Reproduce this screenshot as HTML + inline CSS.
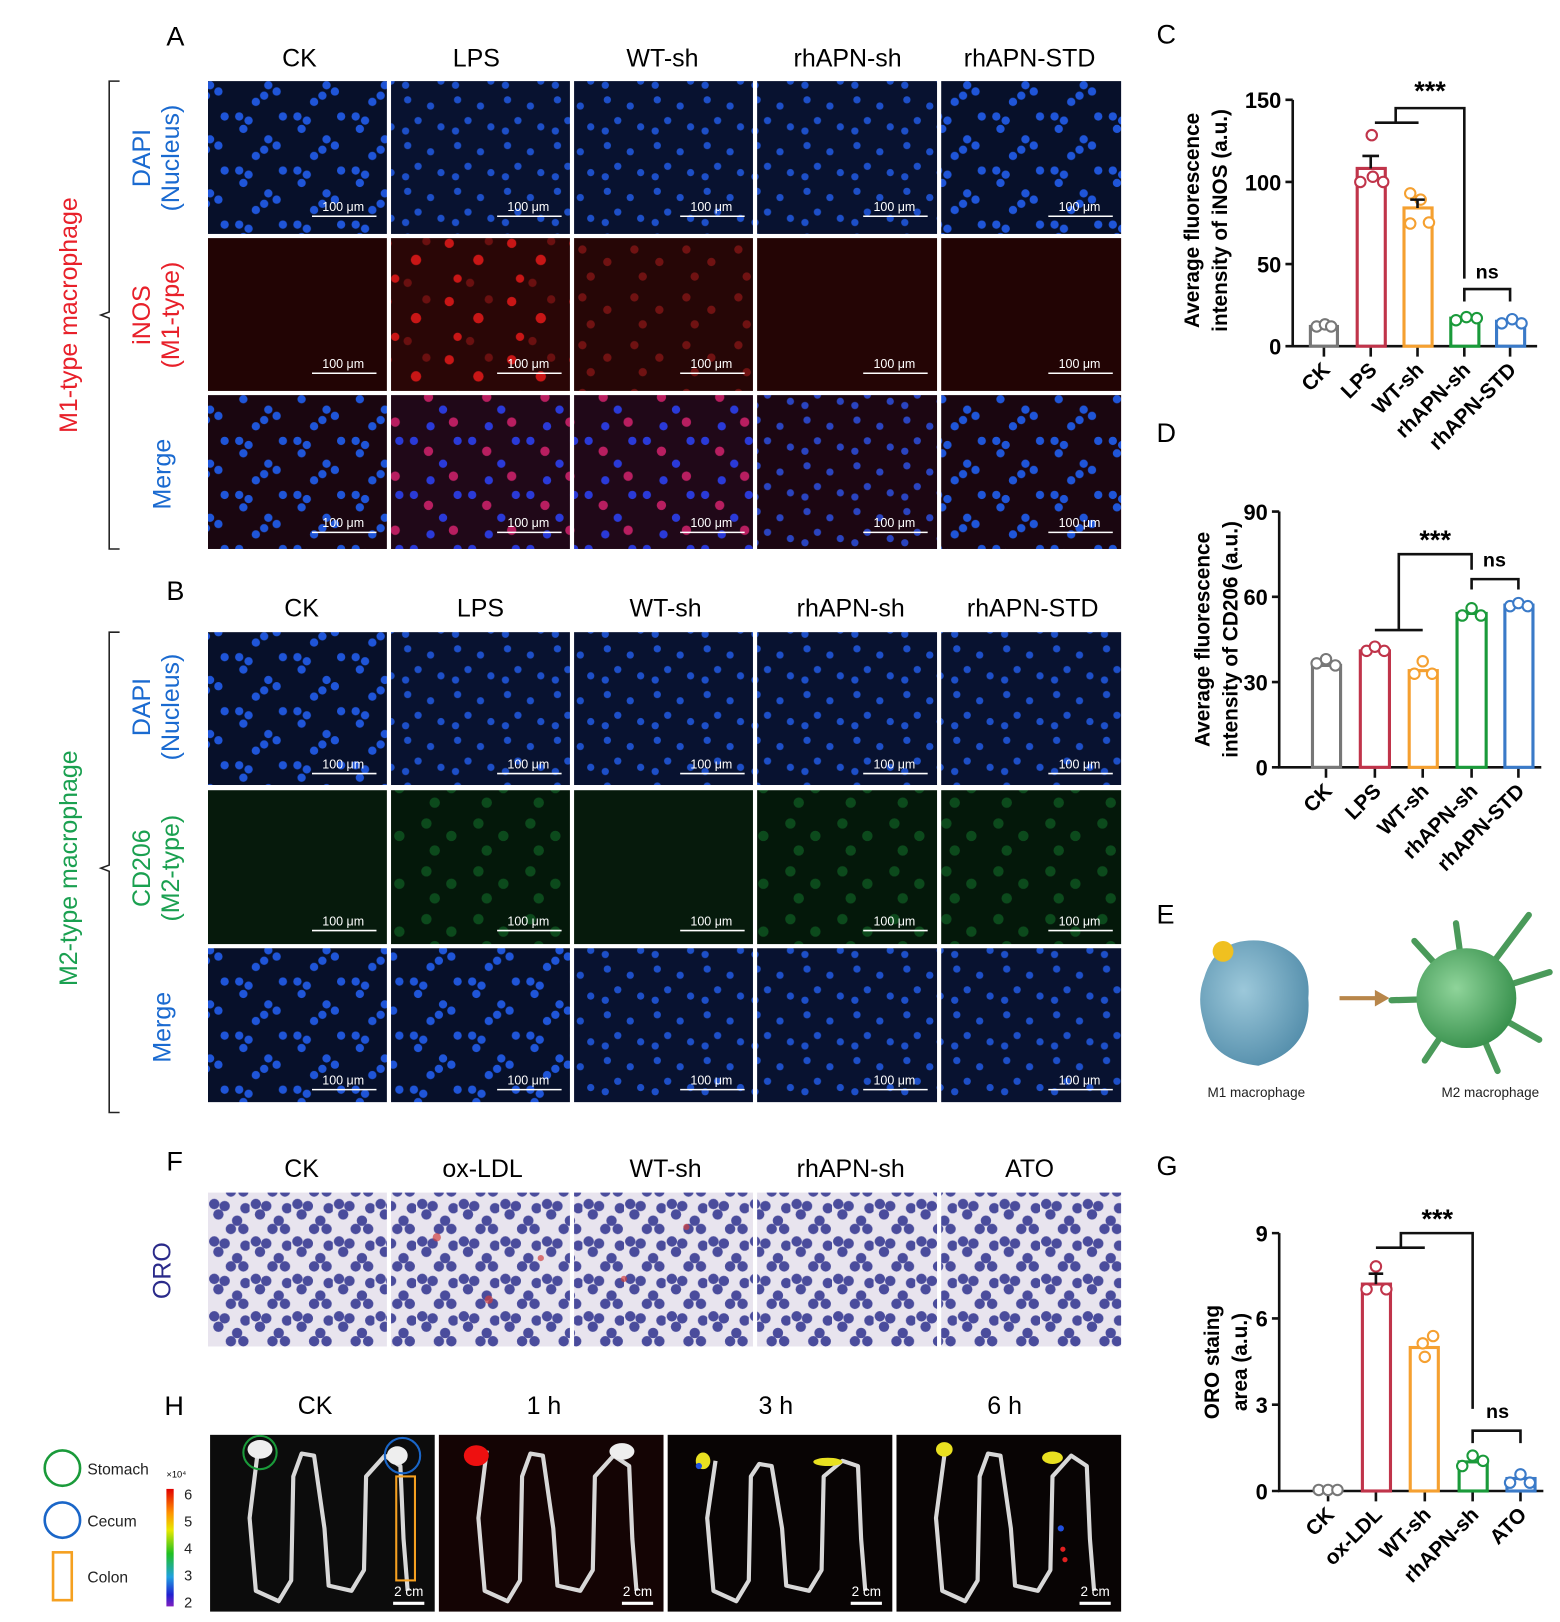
<!DOCTYPE html>
<html><head><meta charset="utf-8"><style>
html,body{margin:0;padding:0;background:#fff;}
svg{display:block;}
text{font-family:"Liberation Sans",Arial,sans-serif;}
</style></head><body>
<svg width="1560" height="1622" viewBox="0 0 1500 1560" preserveAspectRatio="none" xmlns="http://www.w3.org/2000/svg">
<defs>
<pattern id="dapi" width="56" height="52" patternUnits="userSpaceOnUse">
<rect width="56" height="52" fill="#07102a"/>
<g fill="#1f55d8"><circle cx="6" cy="8" r="4"/><circle cx="15" cy="12" r="4"/><circle cx="10" cy="20" r="4"/><circle cx="34" cy="30" r="4"/><circle cx="42" cy="36" r="4"/><circle cx="30" cy="40" r="4"/><circle cx="48" cy="8" r="4"/><circle cx="22" cy="46" r="4"/></g>
</pattern>
<pattern id="dapi2" width="48" height="44" patternUnits="userSpaceOnUse">
<rect width="48" height="44" fill="#081230"/>
<g fill="#1d4fc8"><circle cx="8" cy="8" r="3.5"/><circle cx="30" cy="14" r="3.5"/><circle cx="18" cy="28" r="3.5"/><circle cx="40" cy="34" r="3.5"/><circle cx="6" cy="38" r="3.5"/></g>
</pattern>
<pattern id="mdapi" width="56" height="52" patternUnits="userSpaceOnUse">
<rect width="56" height="52" fill="#1a0610"/>
<g fill="#1f55d8"><circle cx="6" cy="8" r="4"/><circle cx="15" cy="12" r="4"/><circle cx="10" cy="20" r="4"/><circle cx="34" cy="30" r="4"/><circle cx="42" cy="36" r="4"/><circle cx="30" cy="40" r="4"/><circle cx="48" cy="8" r="4"/><circle cx="22" cy="46" r="4"/></g>
</pattern>
<pattern id="mdapi2" width="48" height="44" patternUnits="userSpaceOnUse">
<rect width="48" height="44" fill="#1c0612"/>
<g fill="#2a44c0"><circle cx="8" cy="8" r="3.5"/><circle cx="30" cy="14" r="3.5"/><circle cx="18" cy="28" r="3.5"/><circle cx="40" cy="34" r="3.5"/><circle cx="6" cy="38" r="3.5"/></g>
</pattern>
<pattern id="inos" width="60" height="56" patternUnits="userSpaceOnUse">
<rect width="60" height="56" fill="#2a0606"/>
<g fill="#c81616"><circle cx="12" cy="10" r="4.5"/><circle cx="40" cy="26" r="5"/><circle cx="20" cy="44" r="4"/></g>
<g fill="#6a1010"><circle cx="50" cy="8" r="4"/><circle cx="32" cy="48" r="4"/></g>
</pattern>
<pattern id="inos2" width="50" height="46" patternUnits="userSpaceOnUse">
<rect width="50" height="46" fill="#260606"/>
<g fill="#701212"><circle cx="10" cy="10" r="4"/><circle cx="34" cy="22" r="4"/><circle cx="18" cy="36" r="4"/></g>
</pattern>
<pattern id="merge" width="56" height="52" patternUnits="userSpaceOnUse">
<rect width="56" height="52" fill="#200818"/>
<g fill="#2a3ad8"><circle cx="6" cy="8" r="4"/><circle cx="34" cy="30" r="4"/><circle cx="48" cy="8" r="4"/><circle cx="22" cy="46" r="4"/></g>
<g fill="#b81e60"><circle cx="20" cy="18" r="4.5"/><circle cx="44" cy="42" r="4.5"/></g>
</pattern>
<pattern id="cd" width="50" height="46" patternUnits="userSpaceOnUse">
<rect width="50" height="46" fill="#04180a"/>
<g fill="#0c4a1c"><circle cx="10" cy="10" r="5"/><circle cx="34" cy="22" r="5"/><circle cx="18" cy="36" r="5"/></g>
</pattern>
<pattern id="oro" width="40" height="36" patternUnits="userSpaceOnUse">
<rect width="40" height="36" fill="#e8e4ee"/>
<g fill="#4a4c9c"><circle cx="6" cy="6" r="5"/><circle cx="16" cy="8" r="5"/><circle cx="10" cy="16" r="5"/><circle cx="28" cy="22" r="5"/><circle cx="34" cy="30" r="5"/><circle cx="22" cy="30" r="5"/><circle cx="36" cy="10" r="5"/></g>
</pattern>
<linearGradient id="cb" x1="0" y1="0" x2="0" y2="1">
<stop offset="0" stop-color="#e00000"/><stop offset="0.2" stop-color="#ff9000"/><stop offset="0.35" stop-color="#e8e800"/><stop offset="0.55" stop-color="#20c020"/><stop offset="0.75" stop-color="#20a0e0"/><stop offset="0.9" stop-color="#2020d0"/><stop offset="1" stop-color="#8020c0"/>
</linearGradient>
<radialGradient id="m1g" cx="0.4" cy="0.4" r="0.7"><stop offset="0" stop-color="#9cc8da"/><stop offset="1" stop-color="#4f8aa8"/></radialGradient>
<radialGradient id="m2g" cx="0.4" cy="0.4" r="0.7"><stop offset="0" stop-color="#8fd49a"/><stop offset="1" stop-color="#2f8a45"/></radialGradient>
</defs>

<!-- Panel A -->
<text x="160" y="44" font-size="26">A</text>
<g font-size="24" text-anchor="middle">
<text x="288" y="64">CK</text><text x="458" y="64">LPS</text><text x="637" y="64">WT-sh</text><text x="815" y="64">rhAPN-sh</text><text x="990" y="64">rhAPN-STD</text>
</g>
<g>
<rect x="200" y="78" width="172" height="147" fill="url(#dapi)"/>
<rect x="376" y="78" width="172" height="147" fill="url(#dapi2)"/>
<rect x="552" y="78" width="172" height="147" fill="url(#dapi2)"/>
<rect x="728" y="78" width="173" height="147" fill="url(#dapi2)"/>
<rect x="905" y="78" width="173" height="147" fill="url(#dapi)"/>
<rect x="200" y="229" width="172" height="147" fill="#220404"/>
<rect x="376" y="229" width="172" height="147" fill="url(#inos)"/>
<rect x="552" y="229" width="172" height="147" fill="url(#inos2)"/>
<rect x="728" y="229" width="173" height="147" fill="#240505"/>
<rect x="905" y="229" width="173" height="147" fill="#220404"/>
<rect x="200" y="380" width="172" height="148" fill="url(#mdapi)"/>
<rect x="376" y="380" width="172" height="148" fill="url(#merge)"/>
<rect x="552" y="380" width="172" height="148" fill="url(#merge)"/>
<rect x="728" y="380" width="173" height="148" fill="url(#mdapi2)"/>
<rect x="905" y="380" width="173" height="148" fill="url(#mdapi)"/>
</g>
<!-- Panel B -->
<text x="160" y="577" font-size="26">B</text>
<g font-size="24" text-anchor="middle">
<text x="290" y="593">CK</text><text x="462" y="593">LPS</text><text x="640" y="593">WT-sh</text><text x="818" y="593">rhAPN-sh</text><text x="993" y="593">rhAPN-STD</text>
</g>
<g>
<rect x="200" y="608" width="172" height="147" fill="url(#dapi)"/>
<rect x="376" y="608" width="172" height="147" fill="url(#dapi2)"/>
<rect x="552" y="608" width="172" height="147" fill="url(#dapi2)"/>
<rect x="728" y="608" width="173" height="147" fill="url(#dapi2)"/>
<rect x="905" y="608" width="173" height="147" fill="url(#dapi2)"/>
<rect x="200" y="760" width="172" height="148" fill="#061a0c"/>
<rect x="376" y="760" width="172" height="148" fill="url(#cd)"/>
<rect x="552" y="760" width="172" height="148" fill="#061a0c"/>
<rect x="728" y="760" width="173" height="148" fill="url(#cd)"/>
<rect x="905" y="760" width="173" height="148" fill="url(#cd)"/>
<rect x="200" y="912" width="172" height="148" fill="url(#dapi)"/>
<rect x="376" y="912" width="172" height="148" fill="url(#dapi)"/>
<rect x="552" y="912" width="172" height="148" fill="url(#dapi2)"/>
<rect x="728" y="912" width="173" height="148" fill="url(#dapi2)"/>
<rect x="905" y="912" width="173" height="148" fill="url(#dapi2)"/>
</g>
<!-- scale bars -->
<g stroke="#fff" stroke-width="1.5" fill="none">
<path d="M300 208h62M478 208h62M654 208h62M830 208h62M1008 208h62"/>
<path d="M300 359h62M478 359h62M654 359h62M830 359h62M1008 359h62"/>
<path d="M300 512h62M478 512h62M654 512h62M830 512h62M1008 512h62"/>
<path d="M300 744h62M478 744h62M654 744h62M830 744h62M1008 744h62"/>
<path d="M300 895h62M478 895h62M654 895h62M830 895h62M1008 895h62"/>
<path d="M300 1048h62M478 1048h62M654 1048h62M830 1048h62M1008 1048h62"/>
</g>
<g fill="#fff" font-size="12" text-anchor="middle">
<text x="330" y="203">100 μm</text><text x="508" y="203">100 μm</text><text x="684" y="203">100 μm</text><text x="860" y="203">100 μm</text><text x="1038" y="203">100 μm</text>
<text x="330" y="354">100 μm</text><text x="508" y="354">100 μm</text><text x="684" y="354">100 μm</text><text x="860" y="354">100 μm</text><text x="1038" y="354">100 μm</text>
<text x="330" y="507">100 μm</text><text x="508" y="507">100 μm</text><text x="684" y="507">100 μm</text><text x="860" y="507">100 μm</text><text x="1038" y="507">100 μm</text>
<text x="330" y="739">100 μm</text><text x="508" y="739">100 μm</text><text x="684" y="739">100 μm</text><text x="860" y="739">100 μm</text><text x="1038" y="739">100 μm</text>
<text x="330" y="890">100 μm</text><text x="508" y="890">100 μm</text><text x="684" y="890">100 μm</text><text x="860" y="890">100 μm</text><text x="1038" y="890">100 μm</text>
<text x="330" y="1043">100 μm</text><text x="508" y="1043">100 μm</text><text x="684" y="1043">100 μm</text><text x="860" y="1043">100 μm</text><text x="1038" y="1043">100 μm</text>
</g>
<!-- left labels -->
<g fill="none" stroke="#222" stroke-width="1.5">
<path d="M115 78h-10v222l-8 3 8 3v222h10"/>
<path d="M115 608h-10v224l-8 3 8 3v232h10"/>
</g>
<g font-size="24" text-anchor="middle">
<text transform="translate(74 303) rotate(-90)" fill="#e8202a">M1-type macrophage</text>
<text transform="translate(74 835) rotate(-90)" fill="#1aa050">M2-type macrophage</text>
<text transform="translate(144 152) rotate(-90)" fill="#1a6ad0">DAPI</text>
<text transform="translate(172 152) rotate(-90)" fill="#1a6ad0">(Nucleus)</text>
<text transform="translate(144 303) rotate(-90)" fill="#e8202a">iNOS</text>
<text transform="translate(172 303) rotate(-90)" fill="#e8202a">(M1-type)</text>
<text transform="translate(164 456) rotate(-90)" fill="#1a6ad0">Merge</text>
<text transform="translate(144 680) rotate(-90)" fill="#1a6ad0">DAPI</text>
<text transform="translate(172 680) rotate(-90)" fill="#1a6ad0">(Nucleus)</text>
<text transform="translate(144 835) rotate(-90)" fill="#1aa050">CD206</text>
<text transform="translate(172 835) rotate(-90)" fill="#1aa050">(M2-type)</text>
<text transform="translate(164 988) rotate(-90)" fill="#1a6ad0">Merge</text>
<text transform="translate(164 1222) rotate(-90)" fill="#2a2a8a">ORO</text>
</g>
<!-- Panel F -->
<text x="160" y="1126" font-size="26">F</text>
<g font-size="24" text-anchor="middle">
<text x="290" y="1132">CK</text><text x="464" y="1132">ox-LDL</text><text x="640" y="1132">WT-sh</text><text x="818" y="1132">rhAPN-sh</text><text x="990" y="1132">ATO</text>
</g>
<rect x="200" y="1147" width="172" height="148" fill="url(#oro)"/>
<rect x="376" y="1147" width="172" height="148" fill="url(#oro)"/>
<rect x="552" y="1147" width="172" height="148" fill="url(#oro)"/>
<rect x="728" y="1147" width="173" height="148" fill="url(#oro)"/>
<rect x="905" y="1147" width="173" height="148" fill="url(#oro)"/>
<g fill="#d04040" opacity="0.7"><circle cx="420" cy="1190" r="4"/><circle cx="470" cy="1250" r="4"/><circle cx="520" cy="1210" r="3"/><circle cx="600" cy="1230" r="3"/><circle cx="660" cy="1180" r="3"/></g>
<!-- Panel H -->
<text x="158" y="1361" font-size="26">H</text>
<g font-size="24" text-anchor="middle">
<text x="303" y="1360">CK</text><text x="523" y="1360">1 h</text><text x="746" y="1360">3 h</text><text x="966" y="1360">6 h</text>
</g>
<rect x="202" y="1380" width="216" height="170" fill="#0c0c0c"/>
<rect x="422" y="1380" width="216" height="170" fill="#140404"/>
<rect x="642" y="1380" width="216" height="170" fill="#080404"/>
<rect x="862" y="1380" width="216" height="170" fill="#080404"/>
<g fill="none" stroke="#d8d8d8" stroke-width="4" stroke-linejoin="round">
<path d="M248 1395 L240 1460 L246 1530 L268 1540 L280 1520 L282 1420 L290 1398 L302 1400 L312 1470 L316 1525 L338 1530 L350 1510 L352 1420 L370 1400 L385 1410 L388 1480 L392 1530"/>
<path transform="translate(220 0)" d="M248 1395 L240 1460 L246 1530 L268 1540 L280 1520 L282 1420 L290 1398 L302 1400 L312 1470 L316 1525 L338 1530 L350 1510 L352 1420 L370 1400 L385 1410 L388 1480 L392 1530"/>
<path transform="translate(440 0)" d="M248 1405 L240 1460 L246 1530 L268 1540 L280 1520 L282 1420 L290 1408 L302 1410 L312 1470 L316 1525 L338 1530 L350 1510 L352 1420 L370 1405 L385 1410 L388 1480 L392 1530"/>
<path transform="translate(660 0)" d="M248 1400 L240 1460 L246 1530 L268 1540 L280 1520 L282 1420 L290 1398 L302 1400 L312 1470 L316 1525 L338 1530 L350 1510 L352 1420 L370 1400 L385 1410 L388 1480 L392 1530"/>
</g>
<g fill="#eee"><ellipse cx="250" cy="1394" rx="12" ry="9"/><ellipse cx="382" cy="1400" rx="10" ry="9"/><ellipse cx="598" cy="1396" rx="12" ry="8"/></g>
<ellipse cx="458" cy="1400" rx="12" ry="10" fill="#ee1010"/>
<g fill="#e8e020"><ellipse cx="676" cy="1405" rx="7" ry="8"/><ellipse cx="796" cy="1406" rx="14" ry="4"/><ellipse cx="908" cy="1394" rx="8" ry="7"/><ellipse cx="1012" cy="1402" rx="10" ry="6"/></g>
<g fill="#2050e0"><circle cx="672" cy="1410" r="3"/><circle cx="1020" cy="1470" r="3"/></g>
<g fill="#e02020"><circle cx="1022" cy="1490" r="2.5"/><circle cx="1024" cy="1500" r="2.5"/></g>
<circle cx="250" cy="1397" r="16" fill="none" stroke="#1a9a3a" stroke-width="2"/>
<circle cx="387" cy="1400" r="17" fill="none" stroke="#1a66c8" stroke-width="2"/>
<rect x="381" y="1420" width="18" height="100" fill="none" stroke="#f5a020" stroke-width="2"/>
<g stroke="#fff" stroke-width="3"><path d="M378 1542h30M598 1542h30M818 1542h30M1038 1542h30"/></g>
<g fill="#fff" font-size="13" text-anchor="middle"><text x="393" y="1535">2 cm</text><text x="613" y="1535">2 cm</text><text x="833" y="1535">2 cm</text><text x="1053" y="1535">2 cm</text></g>
<!-- legend H -->
<circle cx="60" cy="1412" r="17" fill="none" stroke="#1a9a3a" stroke-width="2.5"/>
<circle cx="60" cy="1462" r="17" fill="none" stroke="#1a66c8" stroke-width="2.5"/>
<rect x="51" y="1493" width="18" height="46" fill="none" stroke="#f5a020" stroke-width="2.5"/>
<g font-size="15" fill="#222"><text x="84" y="1418">Stomach</text><text x="84" y="1468">Cecum</text><text x="84" y="1522">Colon</text></g>
<text x="160" y="1421" font-size="9">×10⁴</text>
<rect x="160" y="1432" width="7" height="113" fill="url(#cb)"/>
<g font-size="14" fill="#222"><text x="177" y="1442">6</text><text x="177" y="1468">5</text><text x="177" y="1494">4</text><text x="177" y="1520">3</text><text x="177" y="1546">2</text></g>

<!-- Panel C -->
<text x="1112" y="42" font-size="26">C</text>
<g font-size="20" font-weight="bold" text-anchor="middle">
<text transform="translate(1153 212) rotate(-90)">Average fluorescence</text>
<text transform="translate(1180 212) rotate(-90)">intensity of iNOS (a.u.)</text>
</g>
<g stroke="#111" stroke-width="2.5" fill="none">
<path d="M1243 96V333H1478"/>
<path d="M1236 96h7M1236 175h7M1236 254h7M1236 333h7"/>
<path d="M1273 333v10M1318 333v10M1363 333v10M1408 333v10M1452 333v10"/>
<path d="M1322 118h42M1342 118V104H1408V268"/>
<path d="M1408 290v-12h44v12"/>
</g>
<g font-size="21" font-weight="bold" text-anchor="end"><text x="1232" y="104">150</text><text x="1232" y="183">100</text><text x="1232" y="262">50</text><text x="1232" y="341">0</text></g>
<text x="1375" y="96" font-size="26" font-weight="bold" text-anchor="middle">***</text>
<text x="1430" y="268" font-size="19" font-weight="bold" text-anchor="middle">ns</text>
<g fill="none" stroke-width="3">
<rect x="1260" y="314" width="26" height="19" stroke="#777"/>
<rect x="1305" y="162" width="27" height="171" stroke="#c0344a"/>
<rect x="1350" y="200" width="27" height="133" stroke="#f5a030"/>
<rect x="1395" y="306" width="27" height="27" stroke="#1a9a3a"/>
<rect x="1439" y="309" width="27" height="24" stroke="#3a7ac8"/>
</g>
<g fill="#fff" stroke-width="2">
<g stroke="#777"><circle cx="1266" cy="314" r="5"/><circle cx="1274" cy="312" r="5"/><circle cx="1280" cy="314" r="5"/></g>
<g stroke="#c0344a"><circle cx="1319" cy="130" r="5"/><circle cx="1308" cy="175" r="5"/><circle cx="1320" cy="170" r="5"/><circle cx="1330" cy="175" r="5"/></g>
<g stroke="#f5a030"><circle cx="1356" cy="186" r="5"/><circle cx="1366" cy="192" r="5"/><circle cx="1356" cy="215" r="5"/><circle cx="1374" cy="214" r="5"/></g>
<g stroke="#1a9a3a"><circle cx="1400" cy="308" r="5"/><circle cx="1410" cy="305" r="5"/><circle cx="1420" cy="306" r="5"/></g>
<g stroke="#3a7ac8"><circle cx="1444" cy="311" r="5"/><circle cx="1454" cy="307" r="5"/><circle cx="1463" cy="311" r="5"/></g>
</g>
<g stroke="#111" stroke-width="2.5"><path d="M1318 162v-12M1310 150h16M1363 200v-8M1356 192h14"/></g>
<g font-size="20" font-weight="bold" text-anchor="end">
<text transform="translate(1280 357) rotate(-45)">CK</text>
<text transform="translate(1325 357) rotate(-45)">LPS</text>
<text transform="translate(1370 357) rotate(-45)">WT-sh</text>
<text transform="translate(1415 357) rotate(-45)">rhAPN-sh</text>
<text transform="translate(1459 357) rotate(-45)">rhAPN-STD</text>
</g>

<!-- Panel D -->
<text x="1112" y="425" font-size="26">D</text>
<g font-size="20" font-weight="bold" text-anchor="middle">
<text transform="translate(1163 615) rotate(-90)">Average fluorescence</text>
<text transform="translate(1190 615) rotate(-90)">intensity of CD206 (a.u.)</text>
</g>
<g stroke="#111" stroke-width="2.5" fill="none">
<path d="M1230 492V738H1482"/>
<path d="M1223 492h7M1223 574h7M1223 656h7M1223 738h7"/>
<path d="M1275 738v10M1322 738v10M1368 738v10M1415 738v10M1460 738v10"/>
<path d="M1322 606h46M1345 606V533H1415V548"/>
<path d="M1415 567v-10h45v10"/>
</g>
<g font-size="21" font-weight="bold" text-anchor="end"><text x="1219" y="500">90</text><text x="1219" y="582">60</text><text x="1219" y="664">30</text><text x="1219" y="746">0</text></g>
<text x="1380" y="528" font-size="26" font-weight="bold" text-anchor="middle">***</text>
<text x="1437" y="545" font-size="19" font-weight="bold" text-anchor="middle">ns</text>
<g fill="none" stroke-width="3">
<rect x="1262" y="640" width="27" height="98" stroke="#777"/>
<rect x="1308" y="626" width="28" height="112" stroke="#c0344a"/>
<rect x="1355" y="645" width="27" height="93" stroke="#f5a030"/>
<rect x="1401" y="590" width="28" height="148" stroke="#1a9a3a"/>
<rect x="1447" y="582" width="27" height="156" stroke="#3a7ac8"/>
</g>
<g fill="#fff" stroke-width="2">
<g stroke="#777"><circle cx="1266" cy="638" r="5"/><circle cx="1275" cy="634" r="5"/><circle cx="1284" cy="640" r="5"/></g>
<g stroke="#c0344a"><circle cx="1314" cy="626" r="5"/><circle cx="1322" cy="622" r="5"/><circle cx="1331" cy="626" r="5"/></g>
<g stroke="#f5a030"><circle cx="1360" cy="648" r="5"/><circle cx="1368" cy="636" r="5"/><circle cx="1377" cy="648" r="5"/></g>
<g stroke="#1a9a3a"><circle cx="1406" cy="592" r="5"/><circle cx="1415" cy="585" r="5"/><circle cx="1424" cy="592" r="5"/></g>
<g stroke="#3a7ac8"><circle cx="1452" cy="583" r="5"/><circle cx="1460" cy="580" r="5"/><circle cx="1469" cy="583" r="5"/></g>
</g>
<g font-size="20" font-weight="bold" text-anchor="end">
<text transform="translate(1282 762) rotate(-45)">CK</text>
<text transform="translate(1329 762) rotate(-45)">LPS</text>
<text transform="translate(1375 762) rotate(-45)">WT-sh</text>
<text transform="translate(1422 762) rotate(-45)">rhAPN-sh</text>
<text transform="translate(1467 762) rotate(-45)">rhAPN-STD</text>
</g>

<!-- Panel E -->
<text x="1112" y="888" font-size="26">E</text>
<path d="M1158 940 Q1170 900 1215 905 Q1262 915 1258 960 Q1262 1010 1210 1025 Q1165 1020 1158 985 Q1150 960 1158 940Z" fill="url(#m1g)"/>
<circle cx="1176" cy="915" r="10" fill="#f0c020"/>
<path d="M1288 960h36" stroke="#b8864a" stroke-width="4"/>
<path d="M1322 952l14 8-14 8z" fill="#b8864a"/>
<g stroke="#4a9a5a" stroke-width="6" stroke-linecap="round">
<path d="M1410 960L1360 905M1410 960L1338 962M1410 960L1490 935M1410 960L1400 888M1410 960L1470 880M1410 960L1440 1030M1410 960L1370 1020M1410 960L1480 1000"/>
</g>
<circle cx="1410" cy="960" r="48" fill="url(#m2g)"/>
<g font-size="13" text-anchor="middle" fill="#222">
<text x="1208" y="1055" font-family="Liberation Serif,serif">M1 macrophage</text>
<text x="1433" y="1055" font-family="Liberation Serif,serif">M2 macrophage</text>
</g>

<!-- Panel G -->
<text x="1112" y="1130" font-size="26">G</text>
<g font-size="20" font-weight="bold" text-anchor="middle">
<text transform="translate(1172 1310) rotate(-90)">ORO staing</text>
<text transform="translate(1199 1310) rotate(-90)">area (a.u.)</text>
</g>
<g stroke="#111" stroke-width="2.5" fill="none">
<path d="M1230 1186V1434H1484"/>
<path d="M1223 1186h7M1223 1268h7M1223 1351h7M1223 1434h7"/>
<path d="M1277 1434v10M1323 1434v10M1370 1434v10M1416 1434v10M1462 1434v10"/>
<path d="M1323 1200h47M1347 1200V1186H1416V1355"/>
<path d="M1416 1388v-12h46v12"/>
</g>
<g font-size="21" font-weight="bold" text-anchor="end"><text x="1219" y="1194">9</text><text x="1219" y="1276">6</text><text x="1219" y="1359">3</text><text x="1219" y="1442">0</text></g>
<text x="1382" y="1181" font-size="26" font-weight="bold" text-anchor="middle">***</text>
<text x="1440" y="1364" font-size="19" font-weight="bold" text-anchor="middle">ns</text>
<g fill="none" stroke-width="3">
<rect x="1264" y="1433" width="26" height="1" stroke="#777"/>
<rect x="1310" y="1235" width="27" height="199" stroke="#c0344a"/>
<rect x="1356" y="1296" width="27" height="138" stroke="#f5a030"/>
<rect x="1403" y="1406" width="27" height="28" stroke="#1a9a3a"/>
<rect x="1449" y="1422" width="27" height="12" stroke="#3a7ac8"/>
</g>
<g fill="#fff" stroke-width="2">
<g stroke="#777"><circle cx="1268" cy="1433" r="5"/><circle cx="1277" cy="1433" r="5"/><circle cx="1286" cy="1433" r="5"/></g>
<g stroke="#c0344a"><circle cx="1323" cy="1218" r="5"/><circle cx="1314" cy="1240" r="5"/><circle cx="1333" cy="1240" r="5"/></g>
<g stroke="#f5a030"><circle cx="1378" cy="1285" r="5"/><circle cx="1368" cy="1292" r="5"/><circle cx="1370" cy="1305" r="5"/></g>
<g stroke="#1a9a3a"><circle cx="1406" cy="1410" r="5"/><circle cx="1416" cy="1400" r="5"/><circle cx="1426" cy="1405" r="5"/></g>
<g stroke="#3a7ac8"><circle cx="1452" cy="1426" r="5"/><circle cx="1462" cy="1418" r="5"/><circle cx="1471" cy="1426" r="5"/></g>
</g>
<g stroke="#111" stroke-width="2.5"><path d="M1323 1235v-10M1316 1225h14"/></g>
<g font-size="20" font-weight="bold" text-anchor="end">
<text transform="translate(1284 1458) rotate(-45)">CK</text>
<text transform="translate(1330 1458) rotate(-45)">ox-LDL</text>
<text transform="translate(1377 1458) rotate(-45)">WT-sh</text>
<text transform="translate(1423 1458) rotate(-45)">rhAPN-sh</text>
<text transform="translate(1469 1458) rotate(-45)">ATO</text>
</g>
</svg>
</body></html>
